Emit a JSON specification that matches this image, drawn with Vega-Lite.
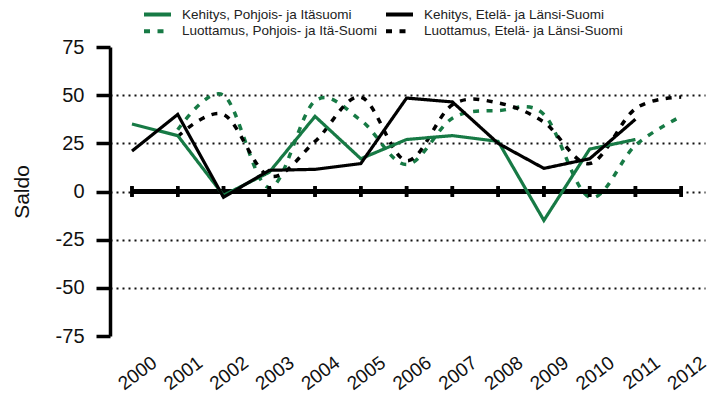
{
  "$schema": "https://vega.github.io/schema/vega-lite/v6.json",
  "width": 595,
  "height": 289,
  "autosize": {"type": "none"},
  "padding": {"left": 110, "top": 47, "right": 5, "bottom": 68},
  "config": {
    "view": {"stroke": null},
    "font": "Liberation Sans",
    "legend": {
      "orient": "none",
      "legendX": 32,
      "legendY": -40,
      "columns": 2,
      "direction": "horizontal",
      "symbolType": "stroke",
      "symbolSize": 729,
      "symbolStrokeWidth": 4,
      "labelFontSize": 13.5,
      "labelColor": "#222",
      "labelLimit": 400,
      "columnPadding": 6,
      "rowPadding": 2,
      "clipHeight": 14.5,
      "labelOffset": 9
    }
  },
  "data": {
    "values": [
      {"year": 2000, "value": 35, "series": "Kehitys, Pohjois- ja Itäsuomi", "type": "K"},
      {"year": 2001, "value": 29, "series": "Kehitys, Pohjois- ja Itäsuomi", "type": "K"},
      {"year": 2002, "value": -2, "series": "Kehitys, Pohjois- ja Itäsuomi", "type": "K"},
      {"year": 2003, "value": 10, "series": "Kehitys, Pohjois- ja Itäsuomi", "type": "K"},
      {"year": 2004, "value": 39, "series": "Kehitys, Pohjois- ja Itäsuomi", "type": "K"},
      {"year": 2005, "value": 17, "series": "Kehitys, Pohjois- ja Itäsuomi", "type": "K"},
      {"year": 2006, "value": 27, "series": "Kehitys, Pohjois- ja Itäsuomi", "type": "K"},
      {"year": 2007, "value": 29, "series": "Kehitys, Pohjois- ja Itäsuomi", "type": "K"},
      {"year": 2008, "value": 26, "series": "Kehitys, Pohjois- ja Itäsuomi", "type": "K"},
      {"year": 2009, "value": -15, "series": "Kehitys, Pohjois- ja Itäsuomi", "type": "K"},
      {"year": 2010, "value": 22, "series": "Kehitys, Pohjois- ja Itäsuomi", "type": "K"},
      {"year": 2011, "value": 27, "series": "Kehitys, Pohjois- ja Itäsuomi", "type": "K"},
      {"year": 2000, "value": 21, "series": "Kehitys, Etelä- ja Länsi-Suomi", "type": "K"},
      {"year": 2001, "value": 40, "series": "Kehitys, Etelä- ja Länsi-Suomi", "type": "K"},
      {"year": 2002, "value": -3, "series": "Kehitys, Etelä- ja Länsi-Suomi", "type": "K"},
      {"year": 2003, "value": 11, "series": "Kehitys, Etelä- ja Länsi-Suomi", "type": "K"},
      {"year": 2004, "value": 11.5, "series": "Kehitys, Etelä- ja Länsi-Suomi", "type": "K"},
      {"year": 2005, "value": 14.5, "series": "Kehitys, Etelä- ja Länsi-Suomi", "type": "K"},
      {"year": 2006, "value": 48.5, "series": "Kehitys, Etelä- ja Länsi-Suomi", "type": "K"},
      {"year": 2007, "value": 46.5, "series": "Kehitys, Etelä- ja Länsi-Suomi", "type": "K"},
      {"year": 2008, "value": 25, "series": "Kehitys, Etelä- ja Länsi-Suomi", "type": "K"},
      {"year": 2009, "value": 12, "series": "Kehitys, Etelä- ja Länsi-Suomi", "type": "K"},
      {"year": 2010, "value": 17, "series": "Kehitys, Etelä- ja Länsi-Suomi", "type": "K"},
      {"year": 2011, "value": 37.5, "series": "Kehitys, Etelä- ja Länsi-Suomi", "type": "K"},
      {"year": 2001, "value": 32, "series": "Luottamus, Pohjois- ja Itä-Suomi", "type": "L"},
      {"year": 2002, "value": 50, "series": "Luottamus, Pohjois- ja Itä-Suomi", "type": "L"},
      {"year": 2003, "value": 2, "series": "Luottamus, Pohjois- ja Itä-Suomi", "type": "L"},
      {"year": 2004, "value": 47, "series": "Luottamus, Pohjois- ja Itä-Suomi", "type": "L"},
      {"year": 2005, "value": 37, "series": "Luottamus, Pohjois- ja Itä-Suomi", "type": "L"},
      {"year": 2006, "value": 14, "series": "Luottamus, Pohjois- ja Itä-Suomi", "type": "L"},
      {"year": 2007, "value": 38, "series": "Luottamus, Pohjois- ja Itä-Suomi", "type": "L"},
      {"year": 2008, "value": 42, "series": "Luottamus, Pohjois- ja Itä-Suomi", "type": "L"},
      {"year": 2009, "value": 40, "series": "Luottamus, Pohjois- ja Itä-Suomi", "type": "L"},
      {"year": 2010, "value": -3, "series": "Luottamus, Pohjois- ja Itä-Suomi", "type": "L"},
      {"year": 2011, "value": 24, "series": "Luottamus, Pohjois- ja Itä-Suomi", "type": "L"},
      {"year": 2012, "value": 39, "series": "Luottamus, Pohjois- ja Itä-Suomi", "type": "L"},
      {"year": 2001, "value": 28.5, "series": "Luottamus, Etelä- ja Länsi-Suomi", "type": "L"},
      {"year": 2002, "value": 40, "series": "Luottamus, Etelä- ja Länsi-Suomi", "type": "L"},
      {"year": 2003, "value": 8, "series": "Luottamus, Etelä- ja Länsi-Suomi", "type": "L"},
      {"year": 2004, "value": 26, "series": "Luottamus, Etelä- ja Länsi-Suomi", "type": "L"},
      {"year": 2005, "value": 49, "series": "Luottamus, Etelä- ja Länsi-Suomi", "type": "L"},
      {"year": 2006, "value": 16, "series": "Luottamus, Etelä- ja Länsi-Suomi", "type": "L"},
      {"year": 2007, "value": 45, "series": "Luottamus, Etelä- ja Länsi-Suomi", "type": "L"},
      {"year": 2008, "value": 46, "series": "Luottamus, Etelä- ja Länsi-Suomi", "type": "L"},
      {"year": 2009, "value": 36, "series": "Luottamus, Etelä- ja Länsi-Suomi", "type": "L"},
      {"year": 2010, "value": 14.5, "series": "Luottamus, Etelä- ja Länsi-Suomi", "type": "L"},
      {"year": 2011, "value": 43, "series": "Luottamus, Etelä- ja Länsi-Suomi", "type": "L"},
      {"year": 2012, "value": 49, "series": "Luottamus, Etelä- ja Länsi-Suomi", "type": "L"}
    ]
  },
  "encoding": {
    "x": {
      "field": "year", "type": "quantitative",
      "scale": {"domain": [1999.52, 2012.52], "nice": false, "zero": false},
      "axis": {
        "title": null, "values": [2000,2001,2002,2003,2004,2005,2006,2007,2008,2009,2010,2011,2012],
        "format": "d", "labelAngle": -37, "labelAlign": "right", "labelBaseline": "middle",
        "labelOffset": 22, "labelPadding": 24, "labelFontSize": 19, "labelColor": "#111",
        "domain": false, "ticks": false, "grid": false, "labelFlush": false, "labelOverlap": false
      }
    },
    "y": {
      "field": "value", "type": "quantitative",
      "scale": {"domain": [-75, 75], "nice": false},
      "axis": {
        "title": "Saldo", "titleFontSize": 21, "titleFontWeight": "normal", "titleColor": "#111", "titlePadding": 23,
        "values": [-75, -50, -25, 0, 25, 50, 75],
        "labelExpr": "datum.value < 0 ? '-' + abs(datum.value) : '' + datum.value",
        "labelFontSize": 20, "labelColor": "#111", "labelPadding": 12,
        "domainColor": "black", "domainWidth": 3.5,
        "tickColor": "black", "tickWidth": 3.5, "tickSize": 14,
        "grid": true, "gridColor": "#111", "gridWidth": 2, "gridDash": [2, 4],
        "gridOpacity": {"condition": {"test": "abs(datum.value) == 75", "value": 0}, "value": 1}
      }
    }
  },
  "layer": [
    {
      "transform": [{"filter": "datum.type === 'L'"}],
      "mark": {"type": "line", "strokeWidth": 3.5, "interpolate": "cardinal"},
      "encoding": {
        "color": {
          "field": "series", "type": "nominal", "title": null,
          "sort": ["Kehitys, Pohjois- ja Itäsuomi", "Kehitys, Etelä- ja Länsi-Suomi", "Luottamus, Pohjois- ja Itä-Suomi", "Luottamus, Etelä- ja Länsi-Suomi"],
          "scale": {
            "domain": ["Kehitys, Pohjois- ja Itäsuomi", "Kehitys, Etelä- ja Länsi-Suomi", "Luottamus, Pohjois- ja Itä-Suomi", "Luottamus, Etelä- ja Länsi-Suomi"],
            "range": ["#177a45", "#000000", "#177a45", "#000000"]
          }
        },
        "strokeDash": {
          "field": "series", "type": "nominal", "title": null,
          "sort": ["Kehitys, Pohjois- ja Itäsuomi", "Kehitys, Etelä- ja Länsi-Suomi", "Luottamus, Pohjois- ja Itä-Suomi", "Luottamus, Etelä- ja Länsi-Suomi"],
          "scale": {
            "domain": ["Kehitys, Pohjois- ja Itäsuomi", "Kehitys, Etelä- ja Länsi-Suomi", "Luottamus, Pohjois- ja Itä-Suomi", "Luottamus, Etelä- ja Länsi-Suomi"],
            "range": [[1, 0], [1, 0], [6, 7.5], [6, 7.5]]
          }
        }
      }
    },
    {
      "mark": {"type": "rule", "color": "black", "strokeWidth": 3.5},
      "encoding": {
        "x": {"datum": 2000, "type": "quantitative"},
        "x2": {"datum": 2012},
        "y": {"datum": 0, "type": "quantitative"}
      }
    },
    {
      "transform": [{"filter": "datum.type === 'L' || datum.year === 2000"}],
      "mark": {"type": "rule", "color": "black", "strokeWidth": 3.5},
      "encoding": {
        "y": {"datum": -2.8, "type": "quantitative"},
        "y2": {"datum": 2.8}
      }
    },
    {
      "transform": [{"filter": "datum.type === 'K'"}],
      "mark": {"type": "line", "strokeWidth": 3.2},
      "encoding": {
        "color": {"field": "series", "type": "nominal", "title": null},
        "strokeDash": {"field": "series", "type": "nominal", "title": null}
      }
    }
  ]
}
